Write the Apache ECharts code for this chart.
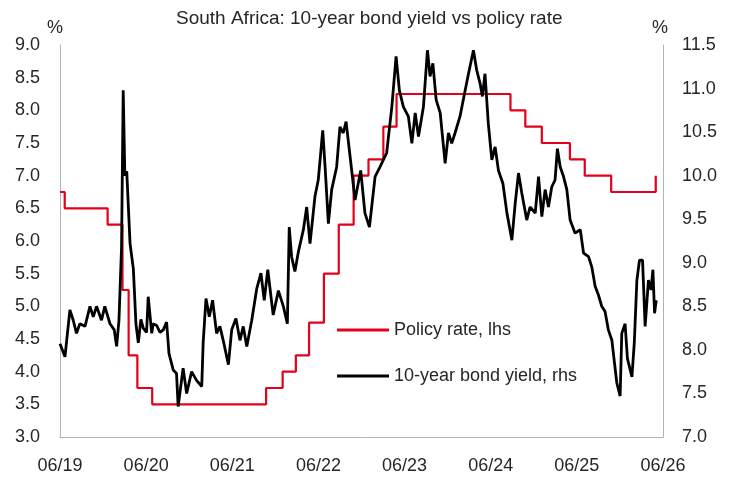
<!DOCTYPE html>
<html>
<head>
<meta charset="utf-8">
<script src="https://cdn.jsdelivr.net/npm/echarts@6/dist/echarts.min.js"></script>
<style>html,body{margin:0;padding:0;background:#fff}#c{width:730px;height:477px}</style>
</head>
<body>
<div id="c"></div>
<script>
// Axis origin (first tick "06/19") and tick labels
const axisOrigin = '2019-06-28';
const xTickLabels = ['06/19','06/20','06/21','06/22','06/23','06/24','06/25','06/26'];

// Policy rate (lhs, %), value holds from date until next change
const policyDates = ['2019-06-28','2019-07-18','2020-01-16','2020-03-19','2020-04-14','2020-05-21','2020-07-23',
  '2021-11-18','2022-01-27','2022-03-24','2022-05-19','2022-07-21','2022-09-22','2022-11-24','2023-01-26',
  '2023-03-30','2023-05-25','2024-09-19','2024-11-21','2025-01-30','2025-05-29','2025-07-31','2025-11-20',
  '2026-05-28','2026-05-30'];
const policyRates = [6.75,6.50,6.25,5.25,4.25,3.75,3.50,
  3.75,4.00,4.25,4.75,5.50,6.25,7.00,7.25,
  7.75,8.25,8.00,7.75,7.50,7.25,7.00,6.75,
  7.00,7.00];

// 10-year bond yield (rhs, %)
const bondDates = ['2019-06-28','2019-07-19','2019-08-09','2019-08-23','2019-09-06','2019-09-20','2019-10-12','2019-11-02',
  '2019-11-16','2019-11-30','2019-12-21','2020-01-04','2020-01-26','2020-02-13','2020-02-23','2020-03-04','2020-03-15',
  '2020-03-22','2020-03-29','2020-04-06','2020-04-20','2020-05-04','2020-05-15','2020-05-25','2020-06-05','2020-06-15',
  '2020-06-29','2020-07-06','2020-07-21','2020-07-27','2020-08-11','2020-08-25','2020-09-08','2020-09-22','2020-10-02',
  '2020-10-20','2020-11-03','2020-11-10','2020-12-01','2020-12-16','2021-01-06','2021-01-27','2021-02-18','2021-02-24',
  '2021-03-08','2021-03-22','2021-04-05','2021-04-22','2021-05-06','2021-05-20','2021-06-11','2021-06-25','2021-07-13',
  '2021-07-30','2021-08-13','2021-08-28','2021-09-18','2021-10-09','2021-10-27','2021-11-10','2021-11-25','2021-12-18',
  '2022-01-09','2022-01-30','2022-02-16','2022-02-24','2022-03-06','2022-03-20','2022-04-04','2022-04-25','2022-05-09',
  '2022-05-23','2022-06-13','2022-06-27','2022-07-16','2022-07-26','2022-08-09','2022-08-23','2022-09-13','2022-09-27',
  '2022-10-11','2022-10-23','2022-11-09','2022-11-30','2022-12-24','2023-01-11','2023-01-30','2023-02-23','2023-03-16',
  '2023-04-13','2023-05-05','2023-05-23','2023-06-06','2023-06-23','2023-07-14','2023-07-29','2023-08-12','2023-08-26',
  '2023-09-16','2023-10-03','2023-10-14','2023-10-26','2023-11-09','2023-11-26','2023-12-17','2023-12-31','2024-01-14',
  '2024-01-28','2024-02-18','2024-03-11','2024-03-25','2024-04-15','2024-04-29','2024-05-13','2024-05-23','2024-06-03',
  '2024-06-17','2024-07-02','2024-07-16','2024-07-30','2024-08-18','2024-09-04','2024-09-25','2024-10-09','2024-10-23',
  '2024-11-06','2024-11-27','2024-12-11','2025-01-02','2025-01-16','2025-01-30','2025-02-13','2025-02-27','2025-03-13',
  '2025-03-27','2025-04-06','2025-04-18','2025-05-02','2025-05-16','2025-05-30','2025-06-20','2025-07-12','2025-07-26',
  '2025-08-16','2025-08-30','2025-09-13','2025-09-27','2025-10-11','2025-10-25','2025-11-08','2025-11-23','2025-12-04',
  '2025-12-14','2025-12-28','2026-01-04','2026-01-18','2026-01-28','2026-02-16','2026-02-26','2026-03-09','2026-03-20',
  '2026-04-02','2026-04-13','2026-04-27','2026-05-08','2026-05-16','2026-05-23','2026-05-30'];
const bondYields = [8.07,7.92,8.46,8.34,8.19,8.30,8.27,8.50,
  8.38,8.50,8.34,8.50,8.30,8.23,8.04,8.34,9.18,
  10.98,10.00,10.05,9.22,8.93,8.30,8.08,8.35,8.25,
  8.20,8.61,8.19,8.30,8.28,8.20,8.23,8.32,7.96,
  7.77,7.73,7.35,7.79,7.50,7.75,7.65,7.58,8.08,
  8.59,8.38,8.57,8.19,8.27,8.11,7.83,8.23,8.36,
  8.11,8.27,8.04,8.34,8.70,8.88,8.57,8.92,8.40,
  8.68,8.50,8.30,9.41,9.07,8.90,9.13,9.38,9.64,
  9.22,9.76,9.95,10.52,10.10,9.45,9.84,10.10,10.56,
  10.49,10.62,10.22,9.72,10.06,9.57,9.41,9.99,10.10,
  10.26,10.79,11.37,10.98,10.79,10.68,10.37,10.72,10.45,
  10.79,11.44,11.14,11.29,10.87,10.72,10.14,10.49,10.37,
  10.49,10.68,10.98,11.17,11.44,11.21,11.06,10.91,11.17,
  10.60,10.18,10.33,10.06,9.91,9.57,9.26,9.68,10.03,
  9.80,9.49,9.64,9.57,9.99,9.53,9.84,9.64,9.87,
  9.95,10.31,10.10,9.99,9.84,9.49,9.34,9.38,9.11,
  9.07,8.95,8.73,8.63,8.50,8.44,8.23,8.11,7.85,
  7.62,7.47,8.19,8.30,7.90,7.69,8.08,8.80,9.03,
  9.03,8.27,8.80,8.69,8.92,8.42,8.57];

const YEAR_MS = 365.25 * 86400000;
const t0 = Date.parse(axisOrigin);
const toX = d => (Date.parse(d) - t0) / YEAR_MS;
const policyData = policyDates.map((d, i) => [toX(d), policyRates[i]]);
const bondData = bondDates.map((d, i) => [toX(d), bondYields[i]]);

const FONT = 'Liberation Sans, Arial, sans-serif';
const TXT = '#262626';
const AXC = '#b3b3b3';
const RED = '#e3001b';

const chart = echarts.init(document.getElementById('c'), null, {renderer: 'canvas'});
chart.setOption({
  animation: false,
  backgroundColor: '#fff',
  title: {
    text: 'South Africa: 10-year bond yield vs policy rate',
    left: 171, top: 4,
    textStyle: {fontFamily: FONT, fontSize: 19, fontWeight: 'normal', color: TXT}
  },
  grid: {left: 60, right: 67, top: 45, bottom: 40, containLabel: false},
  legend: {
    orient: 'vertical',
    left: 337, top: 321, padding: 0,
    itemWidth: 52, itemHeight: 3, itemGap: 28,
    textStyle: {fontFamily: FONT, fontSize: 18, color: TXT},
    data: [
      {name: 'Policy rate, lhs', icon: 'rect', itemStyle: {color: RED}},
      {name: '10-year bond yield, rhs', icon: 'rect', itemStyle: {color: '#000'}}
    ]
  },
  xAxis: {
    type: 'value', min: 0, max: 7, interval: 1,
    axisLine: {show: true, lineStyle: {color: AXC, width: 1}},
    axisTick: {show: false},
    splitLine: {show: false},
    axisLabel: {
      margin: 20, fontFamily: FONT, fontSize: 18, color: TXT,
      formatter: v => xTickLabels[Math.round(v)] || ''
    }
  },
  yAxis: [{
    type: 'value', min: 3, max: 9, interval: 0.5, position: 'left',
    name: '%', nameGap: 8,
    nameTextStyle: {fontFamily: FONT, fontSize: 18, color: TXT, align: 'center', padding: [0, 10, 0, 0]},
    axisLine: {show: true, lineStyle: {color: AXC, width: 1}},
    axisTick: {show: false},
    splitLine: {show: false},
    axisLabel: {margin: 20, fontFamily: FONT, fontSize: 18, color: TXT, formatter: v => v.toFixed(1)}
  }, {
    type: 'value', min: 7, max: 11.5, interval: 0.5, position: 'right',
    name: '%', nameGap: 8,
    nameTextStyle: {fontFamily: FONT, fontSize: 18, color: TXT, align: 'center', padding: [0, 6, 0, 0]},
    axisLine: {show: true, lineStyle: {color: AXC, width: 1}},
    axisTick: {show: false},
    splitLine: {show: false},
    axisLabel: {margin: 19, fontFamily: FONT, fontSize: 18, color: TXT, formatter: v => v.toFixed(1)}
  }],
  series: [{
    name: 'Policy rate, lhs', type: 'line', yAxisIndex: 0, step: 'end',
    symbol: 'none', data: policyData,
    lineStyle: {color: RED, width: 2.2}, itemStyle: {color: RED}
  }, {
    name: '10-year bond yield, rhs', type: 'line', yAxisIndex: 1,
    symbol: 'none', data: bondData,
    lineStyle: {color: '#000', width: 2.8}, itemStyle: {color: '#000'}
  }]
});
</script>
</body>
</html>
